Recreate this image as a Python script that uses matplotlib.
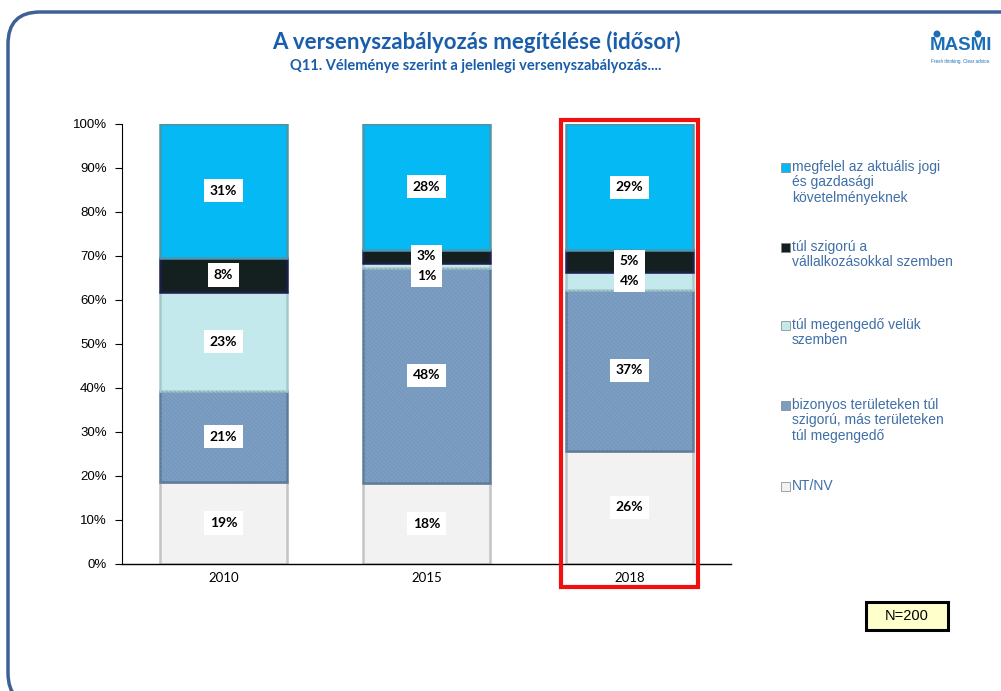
import matplotlib.pyplot as plt
from matplotlib.patches import FancyBboxPatch, Rectangle, Circle
import numpy as np

# adatok (alulrol felfele)
years = ["2010", "2015", "2018"]
nt_nv = [19, 18, 26]
bizonyos = [21, 48, 37]
tul_megengedo = [23, 1, 4]
tul_szigoru = [8, 3, 5]
megfelel = [31, 28, 29]

series = [nt_nv, bizonyos, tul_megengedo, tul_szigoru, megfelel]
colors = ["#F2F2F2", "#7C9EC2", "#C4E9EC", "#14201F", "#05B9F4"]
edges = ["#C4C4C4", "#5F7A96", "#A6C8CC", "#1E1E4A", "#4A97AD"]
legend_labels = [
    "megfelel az aktuális jogi\nés gazdasági\nkövetelményeknek",
    "túl szigorú a\nvállalkozásokkal szemben",
    "túl megengedő velük\nszemben",
    "bizonyos területeken túl\nszigorú, más területeken\ntúl megengedő",
    "NT/NV",
]
legend_colors = [colors[4], colors[3], colors[2], colors[1], colors[0]]

W, H = 1001, 691
plt.rcParams["hatch.linewidth"] = 0.35
fig = plt.figure(figsize=(W / 100, H / 100), dpi=100)
px = fig.dpi_scale_trans


def P(xp, yp):
    # pixel (felulrol) -> inch
    return xp / 100, (H - yp) / 100


# keret
frame = FancyBboxPatch(P(8, 705), 10.25, 6.93, boxstyle="round,pad=0,rounding_size=0.32",
                       transform=px, fill=False, edgecolor="#3F6096", linewidth=2.5)
fig.patches.append(frame)

fig.text(476 / W, 1 - 42 / H, "A versenyszabályozás megítélése (idősor)", ha="center", va="center",
         fontsize=16, fontweight="bold", color="#1A5DAA", family="Lato")
fig.text(476 / W, 1 - 66 / H, "Q11. Véleménye szerint a jelenlegi versenyszabályozás....", ha="center",
         va="center", fontsize=10.5, fontweight="bold", color="#1A5DAA", family="Lato")

# logo
fig.text(961 / W, 1 - 46 / H, "MASMI", ha="center", va="center", fontsize=13.5, fontweight="bold",
         color="#1B6FB8", family="Liberation Sans")
for dx in (937, 978):
    fig.patches.append(Circle(P(dx, 34), 0.028, transform=px, color="#1B6FB8"))
fig.text(961 / W, 1 - 61 / H, "Fresh thinking. Clear advice.", ha="center", va="center", fontsize=3.3,
         color="#1B6FB8", family="Liberation Sans")

ax = fig.add_axes([122 / W, 1 - 564 / H, (731 - 122) / W, 440 / H])

x = np.arange(len(years))
totals = np.sum(series, axis=0)
bottom = np.zeros(len(years))
for i, vals in enumerate(series):
    h = np.array(vals) / totals * 100
    ax.bar(x, h, 0.625, bottom=bottom, color=colors[i], edgecolor=edges[i], linewidth=1.8, zorder=2)
    if i == 1:
        ax.bar(x, h, 0.625, bottom=bottom, color="none", edgecolor="#6E90B4", hatch="\\\\\\\\\\\\\\\\",
               linewidth=0, zorder=2.5)
    for j, v in enumerate(vals):
        yc = bottom[j] + h[j] / 2
        if v < 2:
            yc -= 2.3
        ax.text(x[j], yc, f"{v}%", ha="center", va="center", fontsize=10, fontweight="bold",
                family="Lato", color="black", zorder=4,
                bbox=dict(boxstyle="square,pad=0.4", facecolor="white", edgecolor="none"))
    bottom += h

ax.set_xlim(-0.5, 2.5)
ax.set_ylim(0, 100)
ax.set_yticks(np.arange(0, 101, 10))
ax.set_yticklabels([f"{t}%" for t in range(0, 101, 10)], family="Liberation Sans", fontsize=9.5)
ax.set_xticks(x)
ax.set_xticklabels(years, family="Lato", fontsize=9.5)
ax.tick_params(axis="x", length=0, pad=6)
ax.tick_params(axis="y", length=5, width=0.8, direction="out", pad=6)
for s in ["top", "right"]:
    ax.spines[s].set_visible(False)
ax.spines["left"].set_linewidth(0.8)
ax.spines["bottom"].set_linewidth(1.0)

# kiemeles 2018
ax.add_patch(Rectangle((2 - 0.335, -5.2), 0.67, 106.1, fill=False, edgecolor="#F01010",
                       linewidth=3, clip_on=False, zorder=5))

# jelmagyarazat
tops = [168, 248, 326, 406, 487]
for lab, c, t in zip(legend_labels, legend_colors, tops):
    fig.patches.append(Rectangle(P(781, t + 4), 0.09, 0.09, transform=px,
                                 facecolor=c, edgecolor="#808080", linewidth=0.5))
    fig.text(792 / W, 1 - (t - 8) / H, lab, ha="left", va="top", fontsize=10, color="#3F6FA6",
             family="Liberation Sans", linespacing=1.12)

# N=200
fig.patches.append(Rectangle(P(866, 630), 0.82, 0.28, transform=px, facecolor="#FFFFCC",
                             edgecolor="black", linewidth=2.2))
fig.text(907 / W, 1 - 616 / H, "N=200", ha="center", va="center", fontsize=10.5, family="Liberation Sans")

fig.savefig("out.png", dpi=100)
